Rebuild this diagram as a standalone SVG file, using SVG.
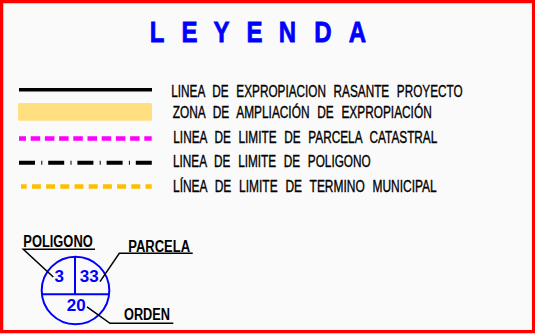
<svg xmlns="http://www.w3.org/2000/svg" width="535" height="334" viewBox="0 0 535 334">
<style>
.lbl{font-family:"Liberation Sans",Arial,sans-serif;font-size:16px;fill:#000;stroke:#000;stroke-width:0.35;word-spacing:6px}
.tag{font-family:"Liberation Sans",Arial,sans-serif;font-size:16px;font-weight:bold;fill:#000}
.num{font-family:"Liberation Sans",Arial,sans-serif;font-size:17px;font-weight:bold;fill:#0000ff;text-anchor:middle}
.title{font-family:"Liberation Sans",Arial,sans-serif;font-size:30px;font-weight:bold;fill:#0000ff;stroke:#0000ff;stroke-width:0.8;text-anchor:middle}
.lead{fill:none;stroke:#000;stroke-width:1.5}
</style>
<rect x="0" y="0" width="535" height="334" fill="#fafafa"/>
<rect x="1.6" y="1.6" width="532" height="330" fill="none" stroke="#ff0000" stroke-width="3.3"/>
<g id="title">
<text class="title" transform="scale(0.8,1)" x="196.25 236.9 276.9 318.1 359.4 403.75 446.9" y="42.3">LEYENDA</text>
</g>
<g id="legend-expropiacion">
<line x1="19" y1="89.8" x2="152" y2="89.8" stroke="#000" stroke-width="3.6"/>
<text class="lbl" x="171.3" y="96.7" textLength="291.4" lengthAdjust="spacingAndGlyphs">LINEA DE EXPROPIACION RASANTE PROYECTO</text>
</g>
<g id="legend-zona">
<rect x="18" y="103" width="134" height="17.7" rx="1.5" fill="#ffdf80"/>
<text class="lbl" x="172.7" y="117.7" textLength="259" lengthAdjust="spacingAndGlyphs">ZONA DE AMPLIACIÓN DE EXPROPIACIÓN</text>
</g>
<g id="legend-parcela">
<line x1="19" y1="138.5" x2="151.7" y2="138.5" stroke="#ff00ff" stroke-width="4.5" stroke-dasharray="9.5 4.7" stroke-dashoffset="2.5"/>
<text class="lbl" x="173.3" y="142.7" textLength="264" lengthAdjust="spacingAndGlyphs">LINEA DE LIMITE DE PARCELA CATASTRAL</text>
</g>
<g id="legend-poligono">
<line x1="19" y1="162.8" x2="151.8" y2="162.8" stroke="#000" stroke-width="4" stroke-dasharray="16 6.3 1 5.9"/>
<text class="lbl" x="173" y="166.7" textLength="197.7" lengthAdjust="spacingAndGlyphs">LINEA DE LIMITE DE POLIGONO</text>
</g>
<g id="legend-termino">
<line x1="21" y1="186.5" x2="151.7" y2="186.5" stroke="#ffbf00" stroke-width="4.5" stroke-dasharray="9 5.2" stroke-dashoffset="3.3"/>
<text class="lbl" x="173" y="191.7" textLength="263.7" lengthAdjust="spacingAndGlyphs">LÍNEA DE LIMITE DE TERMINO MUNICIPAL</text>
</g>
<g id="symbol-circle">
<circle cx="75.5" cy="290.5" r="33.8" fill="none" stroke="#0000ff" stroke-width="2"/>
<line x1="41.7" y1="294.3" x2="109.3" y2="294.3" stroke="#0000ff" stroke-width="2"/>
<line x1="75" y1="256.7" x2="75" y2="294.3" stroke="#0000ff" stroke-width="2"/>
<text class="num" x="59.3" y="281.5">3</text>
<text class="num" x="89.2" y="281.5">33</text>
<text class="num" x="76.3" y="310.5">20</text>
</g>
<g id="label-poligono">
<text class="tag" x="23.3" y="246.7" textLength="69.4" lengthAdjust="spacingAndGlyphs">POLIGONO</text>
</g>
<g id="label-parcela">
<text class="tag" x="128.3" y="251.7" textLength="61.7" lengthAdjust="spacingAndGlyphs">PARCELA</text>
</g>
<g id="label-orden">
<text class="tag" x="124" y="320" textLength="46" lengthAdjust="spacingAndGlyphs">ORDEN</text>
</g>
<g id="connectors">
<polyline class="lead" points="95,249.3 23.3,249.3 53.3,277"/>
<polyline class="lead" points="192.7,253.3 119.3,253.3 100,281.7"/>
<polyline class="lead" points="87,306.8 110,323.3 173.3,323.3"/>
</g>
</svg>
